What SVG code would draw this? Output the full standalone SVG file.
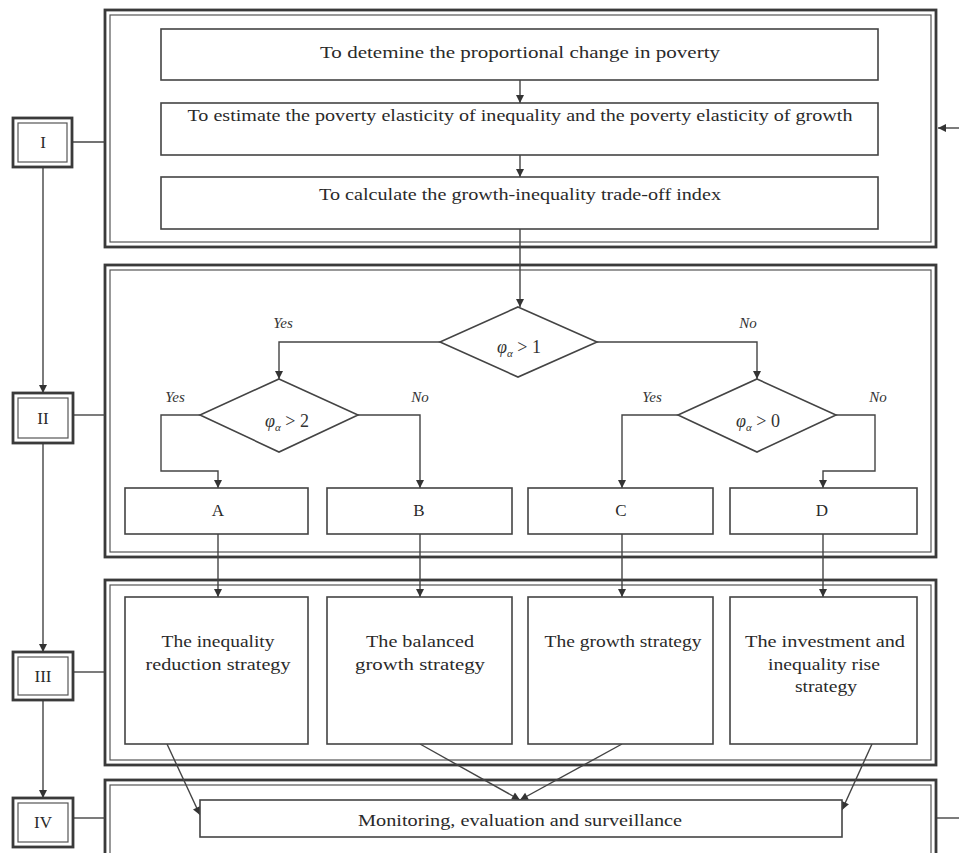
<svg xmlns="http://www.w3.org/2000/svg" width="959" height="853" viewBox="0 0 959 853">
<style>
.pout{fill:none;stroke:#3a3a3a;stroke-width:2.8}
.pin{fill:none;stroke:#555;stroke-width:1.2}
.box{fill:#fff;stroke:#444;stroke-width:1.6}
.dia{fill:#fff;stroke:#444;stroke-width:1.6}
.ln{fill:none;stroke:#444;stroke-width:1.4}
.arr{fill:none;stroke:#444;stroke-width:1.4;marker-end:url(#ah)}
.t{font-family:"Liberation Serif",serif;font-size:17px;fill:#2a2a2a;text-anchor:middle}
.it{font-family:"Liberation Serif",serif;font-style:italic;font-size:15px;fill:#333;text-anchor:middle}
.phi{font-family:"Liberation Serif",serif;font-size:18px;fill:#333;text-anchor:middle}
</style>
<defs>
<marker id="ah" viewBox="0 0 10 10" refX="10" refY="5" markerWidth="10" markerHeight="8" orient="auto" markerUnits="userSpaceOnUse">
<path d="M0,0 L10,5 L0,10 z" fill="#333"/>
</marker>
</defs>
<rect width="959" height="853" fill="#fff"/>

<g id="panel-I">
<rect class="pout" x="105" y="10" width="831" height="237"/>
<rect class="pin" x="110" y="15" width="821" height="227"/>
</g>
<g id="panel-II">
<rect class="pout" x="105" y="265" width="831" height="292"/>
<rect class="pin" x="110" y="270" width="821" height="282"/>
</g>
<g id="panel-III">
<rect class="pout" x="105" y="580" width="831" height="185"/>
<rect class="pin" x="110" y="585" width="821" height="175"/>
</g>
<g id="panel-IV">
<rect class="pout" x="105" y="780" width="831" height="90"/>
<rect class="pin" x="110" y="785" width="821" height="80"/>
</g>

<g id="connectors">
<path class="arr" d="M520,80 L520,103"/>
<path class="arr" d="M520,155 L520,177"/>
<path class="arr" d="M520,229 L520,307"/>
<path class="arr" d="M440,342 L279,342 L279,379"/>
<path class="arr" d="M597,342 L757,342 L757,379"/>
<path class="arr" d="M200,415 L161,415 L161,471 L218,471 L218,488"/>
<path class="arr" d="M358,415 L420,415 L420,488"/>
<path class="arr" d="M678,415 L622,415 L622,488"/>
<path class="arr" d="M836,415 L875,415 L875,471 L823,471 L823,488"/>
<path class="arr" d="M218,534 L218,597"/>
<path class="arr" d="M420,534 L420,597"/>
<path class="arr" d="M622,534 L622,597"/>
<path class="arr" d="M823,534 L823,597"/>
<path class="arr" d="M167,744 L200,815"/>
<path class="arr" d="M420,744 L520,800"/>
<path class="arr" d="M622,744 L520,800"/>
<path class="arr" d="M872,744 L842,810"/>
<path class="arr" d="M43,167 L43,393"/>
<path class="arr" d="M43,443 L43,652"/>
<path class="arr" d="M43,700 L43,798"/>
<path class="ln" d="M72,142 L105,142"/>
<path class="ln" d="M73,415 L105,415"/>
<path class="ln" d="M73,672 L105,672"/>
<path class="ln" d="M73,818 L105,818"/>
<path class="arr" d="M959,128 L938,128"/>
<path class="ln" d="M937,818 L959,818"/>
</g>

<g id="label-I">
<rect class="pout" x="13" y="118" width="59" height="49"/>
<rect class="pin" x="18" y="123" width="49" height="39"/>
<text class="t" x="43" y="148">I</text>
</g>
<g id="label-II">
<rect class="pout" x="13" y="393" width="60" height="50"/>
<rect class="pin" x="18" y="398" width="50" height="40"/>
<text class="t" x="43" y="424">II</text>
</g>
<g id="label-III">
<rect class="pout" x="13" y="652" width="60" height="48"/>
<rect class="pin" x="18" y="657" width="50" height="38"/>
<text class="t" x="43" y="682">III</text>
</g>
<g id="label-IV">
<rect class="pout" x="13" y="798" width="60" height="49"/>
<rect class="pin" x="18" y="803" width="50" height="39"/>
<text class="t" x="43" y="828">IV</text>
</g>

<g id="step1">
<rect class="box" x="161" y="29" width="717" height="51"/>
<text class="t" x="520" y="58" textLength="400" lengthAdjust="spacingAndGlyphs">To detemine the proportional change in poverty</text>
</g>
<g id="step2">
<rect class="box" x="161" y="103" width="717" height="52"/>
<text class="t" x="520" y="121" textLength="665" lengthAdjust="spacingAndGlyphs">To estimate the poverty elasticity of inequality and the poverty elasticity of growth</text>
</g>
<g id="step3">
<rect class="box" x="161" y="177" width="717" height="52"/>
<text class="t" x="520" y="200" textLength="402" lengthAdjust="spacingAndGlyphs">To calculate the growth-inequality trade-off index</text>
</g>

<g id="dec1">
<polygon class="dia" points="518,307 597,342 518,377 440,342"/>
<text class="phi" x="519" y="353"><tspan font-style="italic">φ</tspan><tspan font-size="11" font-style="italic" dy="4">α</tspan><tspan dy="-4"> &gt; 1</tspan></text>
</g>
<g id="dec2">
<polygon class="dia" points="279,379 358,415 279,452 200,415"/>
<text class="phi" x="287" y="427"><tspan font-style="italic">φ</tspan><tspan font-size="11" font-style="italic" dy="4">α</tspan><tspan dy="-4"> &gt; 2</tspan></text>
</g>
<g id="dec3">
<polygon class="dia" points="757,379 836,415 757,452 678,415"/>
<text class="phi" x="758" y="427"><tspan font-style="italic">φ</tspan><tspan font-size="11" font-style="italic" dy="4">α</tspan><tspan dy="-4"> &gt; 0</tspan></text>
</g>

<g id="branch-labels">
<text class="it" x="283" y="328">Yes</text>
<text class="it" x="748" y="328">No</text>
<text class="it" x="175" y="402">Yes</text>
<text class="it" x="420" y="402">No</text>
<text class="it" x="652" y="402">Yes</text>
<text class="it" x="878" y="402">No</text>
</g>

<g id="box-A">
<rect class="box" x="125" y="488" width="183" height="46"/>
<text class="t" x="218" y="516">A</text>
</g>
<g id="box-B">
<rect class="box" x="327" y="488" width="185" height="46"/>
<text class="t" x="419" y="516">B</text>
</g>
<g id="box-C">
<rect class="box" x="528" y="488" width="185" height="46"/>
<text class="t" x="621" y="516">C</text>
</g>
<g id="box-D">
<rect class="box" x="730" y="488" width="187" height="46"/>
<text class="t" x="822" y="516">D</text>
</g>

<g id="strategy-A">
<rect class="box" x="125" y="597" width="183" height="147"/>
<text class="t" x="218" y="647" textLength="113" lengthAdjust="spacingAndGlyphs">The inequality</text>
<text class="t" x="218" y="670" textLength="145" lengthAdjust="spacingAndGlyphs">reduction strategy</text>
</g>
<g id="strategy-B">
<rect class="box" x="327" y="597" width="185" height="147"/>
<text class="t" x="420" y="647" textLength="108" lengthAdjust="spacingAndGlyphs">The balanced</text>
<text class="t" x="420" y="670" textLength="130" lengthAdjust="spacingAndGlyphs">growth strategy</text>
</g>
<g id="strategy-C">
<rect class="box" x="528" y="597" width="185" height="147"/>
<text class="t" x="623" y="647" textLength="157" lengthAdjust="spacingAndGlyphs">The growth strategy</text>
</g>
<g id="strategy-D">
<rect class="box" x="730" y="597" width="187" height="147"/>
<text class="t" x="825" y="647" textLength="160" lengthAdjust="spacingAndGlyphs">The investment and</text>
<text class="t" x="824" y="670" textLength="112" lengthAdjust="spacingAndGlyphs">inequality rise</text>
<text class="t" x="826" y="692" textLength="62" lengthAdjust="spacingAndGlyphs">strategy</text>
</g>

<g id="monitoring">
<rect class="box" x="200" y="800" width="642" height="37"/>
<text class="t" x="520" y="826" textLength="324" lengthAdjust="spacingAndGlyphs">Monitoring, evaluation and surveillance</text>
</g>
</svg>
